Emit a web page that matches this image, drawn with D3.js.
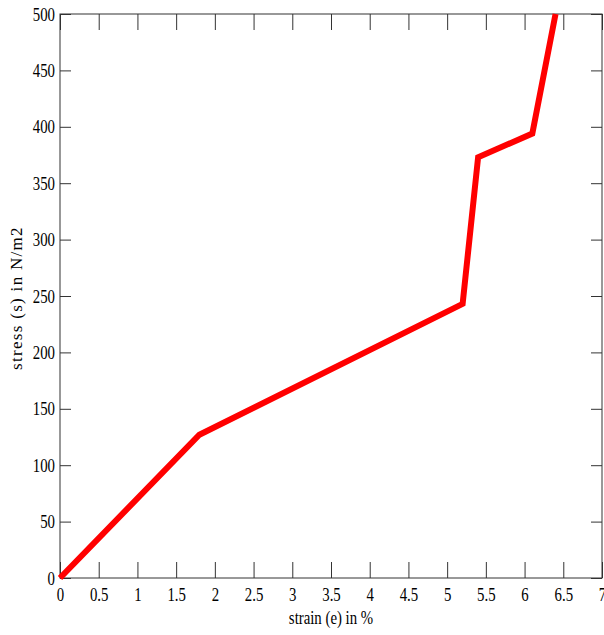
<!DOCTYPE html>
<html>
<head>
<meta charset="utf-8">
<script src="https://cdn.jsdelivr.net/npm/d3@7"></script>
<style>
  body { margin: 0; background: #fff; }
  svg text { font-family: "Liberation Serif", "DejaVu Serif", serif; fill: #000; }
</style>
</head>
<body>
<div id="chart"></div>
<script>
// strain (%) vs stress (N/m2)
const strain = [0, 1.8, 5.2, 5.4, 6.1, 6.4];
const stress = [0, 127, 243, 373, 394, 500];
const xTicks = [0, 0.5, 1, 1.5, 2, 2.5, 3, 3.5, 4, 4.5, 5, 5.5, 6, 6.5, 7];
const yTicks = [0, 50, 100, 150, 200, 250, 300, 350, 400, 450, 500];

const width = 604, height = 635;
const margin = { top: 14, right: 2, bottom: 57, left: 60 };
const squeeze = 0.78;

const svg = d3.select('#chart').append('svg')
  .attr('width', width)
  .attr('height', height);

const x = d3.scaleLinear().domain([0, 7]).range([margin.left, width - margin.right]);
const y = d3.scaleLinear().domain([0, 500]).range([height - margin.bottom, margin.top]);

const styleAxis = g => {
  g.select('.domain').remove();
  g.selectAll('.tick line').attr('stroke', '#333');
};

// bottom axis, ticks pointing inward
svg.append('g')
  .attr('transform', `translate(0,${y(0)})`)
  .call(d3.axisBottom(x).tickValues(xTicks).tickSize(-16).tickPadding(0).tickFormat(d3.format('')))
  .call(styleAxis)
  .call(g => g.selectAll('.tick text')
    .attr('font-size', 19)
    .attr('y', 0)
    .attr('dy', 0)
    .attr('transform', `translate(0,23) scale(${squeeze},1)`));

// top axis ticks
svg.append('g')
  .attr('transform', `translate(0,${y(500)})`)
  .call(d3.axisTop(x).tickValues(xTicks).tickSize(-16).tickFormat(''))
  .call(styleAxis);

// left axis
svg.append('g')
  .attr('transform', `translate(${x(0)},0)`)
  .call(d3.axisLeft(y).tickValues(yTicks).tickSize(-11).tickFormat(d3.format('')))
  .call(styleAxis)
  .call(g => g.selectAll('.tick text')
    .attr('font-size', 19)
    .attr('x', 0)
    .attr('dy', '0.32em')
    .attr('transform', `translate(-5,0) scale(${squeeze},1)`));

// right axis ticks
svg.append('g')
  .attr('transform', `translate(${x(7)},0)`)
  .call(d3.axisRight(y).tickValues(yTicks).tickSize(-11).tickFormat(''))
  .call(styleAxis);

// frame
svg.append('rect')
  .attr('x', x(0))
  .attr('y', y(500))
  .attr('width', x(7) - x(0))
  .attr('height', y(0) - y(500))
  .attr('fill', 'none')
  .attr('stroke', '#333')
  .attr('stroke-width', 1);

// data line
const line = d3.line()
  .x((d, i) => x(strain[i]))
  .y(d => y(d));

svg.append('path')
  .datum(stress)
  .attr('fill', 'none')
  .attr('stroke', '#ff0000')
  .attr('stroke-width', 6)
  .attr('stroke-linejoin', 'miter')
  .attr('d', line);

// axis titles
svg.append('text')
  .attr('transform', `translate(${(x(0) + x(7)) / 2},624) scale(${squeeze},1)`)
  .attr('text-anchor', 'middle')
  .attr('font-size', 19)
  .text('strain (e) in %');

svg.append('text')
  .attr('transform', `translate(22,${(y(0) + y(500)) / 2 + 2}) rotate(-90)`)
  .attr('text-anchor', 'middle')
  .attr('font-size', 17)
  .attr('letter-spacing', 1.3)
  .text('stress (s) in N/m2');
</script>
</body>
</html>
